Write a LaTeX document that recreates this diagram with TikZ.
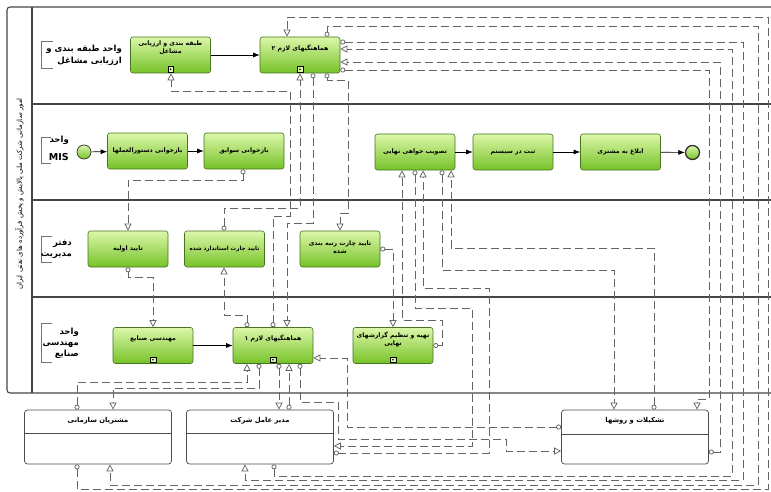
\documentclass[tikz,border=0pt]{standalone}
\usepackage{fontspec}
\setmainfont{DejaVu Sans}
\newfontfamily\arabicfont[Script=Arabic]{DejaVu Sans}
\TeXXeTstate=1
\usetikzlibrary{arrows.meta}
\definecolor{gtop}{RGB}{220,247,170}
\definecolor{gbot}{RGB}{118,194,40}
\definecolor{gedge}{RGB}{70,116,32}
\definecolor{poolc}{RGB}{70,70,70}
\definecolor{msgc}{RGB}{100,100,100}
\newcommand{\faline}[1]{\beginR #1\endR}
\tikzset{
  task/.style={draw=gedge, line width=0.6pt, rounded corners=2.5pt, top color=gtop, bottom color=gbot,
    minimum width=80pt, minimum height=36pt, inner sep=0pt},
  ttext/.style={font=\arabicfont\fontsize{6.2}{7.8}\selectfont\bfseries, align=center, inner sep=0pt},
  mk/.style={draw=black, fill=gtop, line width=0.5pt, minimum size=5.5pt, inner sep=0pt,
    path picture={\fill[black] (path picture bounding box.center) circle (0.9pt);}},
  seq/.style={draw=black, line width=0.7pt, -{Latex[length=6.5pt,width=5pt]}},
  msg/.style={draw=msgc, line width=0.75pt, dash pattern=on 8pt off 4pt,
    {Circle[open,length=5pt,width=5pt]}-{Triangle[open,length=7pt,width=7pt]}},
  bb/.style={draw=black!70, line width=0.7pt, rounded corners=3pt, fill=white,
    minimum width=147pt, minimum height=54pt, inner sep=0pt},
  bbtext/.style={font=\arabicfont\fontsize{6.8}{8}\selectfont\bfseries, inner sep=0pt},
  ev/.style={circle, draw=black!80, line width=0.7pt, minimum size=14pt, inner sep=0pt,
    top color=gtop, bottom color=gbot},
  lbl/.style={font=\arabicfont\fontsize{8.5}{12}\selectfont\bfseries, align=right, inner sep=0pt},
  brk/.style={draw=black!55, line width=0.7pt},
  poolline/.style={draw=poolc, line width=1.1pt}
}
\begin{document}
\begin{tikzpicture}[x=1pt, y=-1pt]
\useasboundingbox (0,0) rectangle (771,492);
\fill[white] (0,0) rectangle (771,492);

% main pool
\draw[poolline, rounded corners=3pt] (771,7) -- (7,7) -- (7,393) -- (771,393);
\draw[poolline] (32,7) -- (32,393);
\foreach \yy in {104,200,297} \draw[poolline] (32,\yy) -- (771,\yy);
\node[rotate=90, font=\arabicfont\fontsize{7}{8}\selectfont, inner sep=0pt] (poolname) at (19.5,194)
  {\faline{امور سازمانی شرکت ملی پالایش و پخش فرآورده های نفتی ایران}};

% lane labels
\draw[brk] (53,41) -- (41,41) -- (41,68) -- (53,68);
\node[lbl, anchor=east] (L1) at (122,55) {\faline{واحد طبقه بندی و}\\\faline{ارزیابی مشاغل}};
\draw[brk] (51,137) -- (41,137) -- (41,163) -- (51,163);
\node[lbl, anchor=north east] (L2a) at (69,136) {\faline{واحد}};
\node[font=\fontsize{9.5}{10}\selectfont\bfseries, inner sep=0pt, anchor=east] (L2b) at (69,157) {MIS};
\draw[brk] (52,236) -- (41,236) -- (41,262) -- (52,262);
\node[lbl, anchor=east, font=\arabicfont\fontsize{8.5}{11}\selectfont\bfseries] (L3) at (72,249) {\faline{دفتر}\\\faline{مدیریت}};
\draw[brk] (52,323) -- (41,323) -- (41,362) -- (52,362);
\node[lbl, anchor=east, font=\arabicfont\fontsize{8.5}{11}\selectfont\bfseries] (L4) at (79,343) {\faline{واحد}\\\faline{مهندسی}\\\faline{صنایع}};

% lane 1 tasks
\node[task] (T1) at (170.5,55) {};
\node[ttext] at ([yshift=7pt]T1.center) {\faline{طبقه بندی و ارزیابی}\\\faline{مشاغل}};
\node[mk] at ([yshift=4pt]T1.south) {};
\node[task] (T2) at (300,55) {};
\node[ttext] at ([yshift=7pt]T2.center) {\faline{هماهنگیهای لازم ۲}};
\node[mk] at ([yshift=4pt]T2.south) {};

% lane 2
\node[ev] (start) at (84,152) {};
\node[task] (T3) at (147.5,151) {};
\node[ttext] at (T3.center) {\faline{بازخوانی دستورالعملها}};
\node[task] (T4) at (244,151) {};
\node[ttext] at (T4.center) {\faline{بازخوانی سوابق}};
\node[task] (T5) at (415,152) {};
\node[ttext] at (T5.center) {\faline{تصویب خواهی نهایی}};
\node[task] (T6) at (513,152) {};
\node[ttext] at (T6.center) {\faline{ثبت در سیستم}};
\node[task] (T7) at (620.5,152) {};
\node[ttext] at (T7.center) {\faline{ابلاغ به مشتری}};
\node[ev, line width=1.3pt] (end) at (692.5,152.5) {};

% lane 3
\node[task] (T8) at (128,249) {};
\node[ttext] at (T8.center) {\faline{تایید اولیه}};
\node[task] (T9) at (224.5,249) {};
\node[ttext, font=\arabicfont\fontsize{5.6}{7}\selectfont\bfseries] at (T9.center) {\faline{تایید چارت استاندارد شده}};
\node[task] (T10) at (340,249) {};
\node[ttext] at ([yshift=2pt]T10.center) {\faline{تایید چارت رتبه بندی}\\\faline{شده}};

% lane 4
\node[task] (T11) at (153,345.5) {};
\node[ttext] at ([yshift=7pt]T11.center) {\faline{مهندسی صنایع}};
\node[mk] at ([yshift=4pt]T11.south) {};
\node[task] (T12) at (273,345.5) {};
\node[ttext] at ([yshift=7pt]T12.center) {\faline{هماهنگیهای لازم ۱}};
\node[mk] at ([yshift=4pt]T12.south) {};
\node[task] (T13) at (393,345.5) {};
\node[ttext] at ([yshift=6pt]T13.center) {\faline{تهیه و تنظیم گزارشهای}\\\faline{نهایی}};
\node[mk] at ([yshift=4pt]T13.south) {};

% black box pools
\node[bb] (P1) at (98,437) {};
\draw[black!70, line width=0.7pt] (P1.west |- 0,433) -- (P1.east |- 0,433);
\node[bbtext] at ([yshift=-11pt]P1.north) {\faline{مشتریان سازمانی}};
\node[bb] (P2) at (260,437) {};
\draw[black!70, line width=0.7pt] (P2.west |- 0,433) -- (P2.east |- 0,433);
\node[bbtext] at ([yshift=-11pt]P2.north) {\faline{مدیر عامل شرکت}};
\node[bb] (P3) at (635,437) {};
\draw[black!70, line width=0.7pt] (P3.west |- 0,434) -- (P3.east |- 0,434);
\node[bbtext] at ([yshift=-11pt]P3.north) {\faline{تشکیلات و روشها}};

% sequence flows
\draw[seq] (T1) -- (T2);
\draw[seq] (start) -- (T3);
\draw[seq] (T3) -- (T4);
\draw[seq] (T5) -- (T6);
\draw[seq] (T6) -- (T7);
\draw[seq] (T7) -- (end);
\draw[seq] (T11) -- (T12);

% message flows
\draw[msg] (P1.south -| 77,0) |- (768,489) |- (287,17) -- (T2.north -| 287,0);
\draw[msg] (T2.north -| 327,0) |- (758,26) |- (110,485) -- (P1.south -| 110,0);
\draw[msg] (T2.east |- 0,42) -| (743,480) -| (P2.south -| 245,0);
\draw[msg] (P2.south -| 274,0) |- (732,476) |- (T2.east |- 0,49);
\draw[msg] (P3.east |- 0,452) -| (720,62) -- (T2.east |- 0,62);
\draw[msg] (T2.east |- 0,70) -| (709,399) -| (P3.north -| 697,0);
\draw[msg] (T2.south -| 327,0) |- (348,80) |- (340,213) -- (T10.north);
\draw[msg] (T2.south -| 313,0) |- (287,223) -- (T12.north -| 287,0);
\draw[msg] (T9.north -| 224,0) |- (300,208) -- (T2.south);
\draw[msg] (T12.north) |- (290,216) |- (171,91) -- (T1.south -| 171,0);
\draw[msg] (T12.north -| 247,0) |- (224,315) -- (T9.south -| 224,0);
\draw[msg] (T4.south -| 243,0) |- (128,180) -- (T8.north);
\draw[msg] (T8.south) |- (153,277) -- (T11.north);
\draw[msg] (T10.east) -| (T13.north);
\draw[msg] (T13.east) -| (442,320) -| (T5.south -| 402,0);
\draw[msg] (T5.south -| 415,0) |- (472,308) |- (P2.east |- 0,446);
\draw[msg] (P2.east |- 0,453) -| (489,288) -| (T5.south -| 423,0);
\draw[msg] (T5.south -| 442,0) |- (614,270) -- (P3.north -| 614,0);
\draw[msg] (P3.north -| 654,0) |- (451,248) -- (T5.south -| 451,0);
\draw[msg] (P3.west |- 0,427) -| (347,358) -- (T12.east |- 0,358);
\draw[msg] (T12.south -| 300,0) |- (338,402) |- (506,439) |- (P3.west |- 0,451);
\draw[msg] (P2.north -| 289,0) -- (T12.south -| 289,0);
\draw[msg] (T12.south -| 279,0) -- (P2.north -| 279,0);
\draw[msg] (T12.south -| 259,0) |- (113,388) -- (P1.north -| 113,0);
\draw[msg] (P1.north -| 77,0) |- (247,382) -- (T12.south -| 247,0);
\end{tikzpicture}
\end{document}
